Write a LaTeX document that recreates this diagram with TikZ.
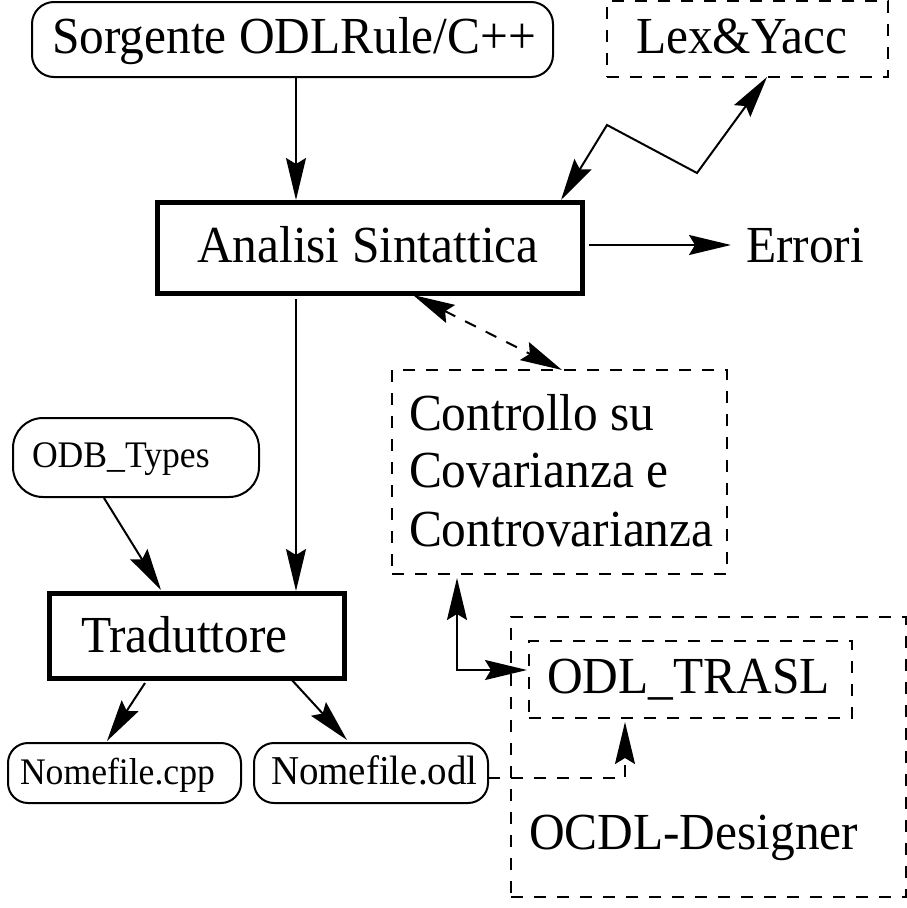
\documentclass[tikz,border=0pt]{standalone}
\usepackage{fontspec}
\setmainfont{Liberation Serif}[FakeStretch=0.95]
\usetikzlibrary{arrows.meta,calc}

\newcommand\bigsz{\fontsize{52}{57.5}\selectfont}
\newcommand\smallsz{\fontsize{37.5}{42}\selectfont}
\newcommand\midsz{\fontsize{41}{46}\selectfont}

\tikzset{
  thinline/.style={line width=2pt},
  roundbox/.style={draw, thinline, rounded corners=22pt, rectangle, inner sep=0pt, outer sep=0pt},
  thickbox/.style={draw, line width=5pt, rectangle, inner sep=0pt, outer sep=0pt},
  dashline/.style={dash pattern=on 12pt off 11pt},
  dashbox/.style={draw, thinline, dashline, rectangle, inner sep=0pt, outer sep=0pt},
  lbl/.style={anchor=base west, inner sep=0pt, outer sep=0pt, font=\bigsz},
  tip/.tip={Stealth[length=42pt,width=20pt,inset=6pt]},
  arr/.style={thinline, -tip},
  arrboth/.style={thinline, tip-tip}
}

\begin{document}
\begin{tikzpicture}[x=1pt,y=-1pt]
\useasboundingbox (0,0) rectangle (907,908);

% boxes
\node[roundbox, minimum width=521pt, minimum height=75pt] (src) at (292.5,39.5) {};
\node[dashbox, minimum width=281pt, minimum height=76pt] (lex) at (747.5,39) {};
\node[thickbox, minimum width=425pt, minimum height=91pt] (ana) at (369.5,247.5) {};
\node[dashbox, minimum width=335pt, minimum height=204pt] (ctl) at (559.5,472) {};
\node[roundbox, rounded corners=30pt, minimum width=246pt, minimum height=79pt] (odb) at (136,457.5) {};
\node[thickbox, minimum width=295pt, minimum height=85pt] (tra) at (196.5,635.5) {};
\node[roundbox, rounded corners=20pt, minimum width=233pt, minimum height=60pt] (cpp) at (124.5,773) {};
\node[roundbox, rounded corners=20pt, minimum width=234pt, minimum height=60pt] (odl) at (371,773) {};
\node[dashbox, minimum width=395pt, minimum height=280pt] (ocdl) at (708.5,757) {};
\node[dashbox, minimum width=323pt, minimum height=77pt] (trasl) at (690.5,679.5) {};

% labels
\node[lbl] (srct) at (52,53) {Sorgente ODLRule/C++};
\node[lbl] (lext) at (636,53) {Lex\&Yacc};
\node[lbl] (anat) at (197,262) {Analisi Sintattica};
\node[lbl] (err) at (746,262) {Errori};
\node[lbl] (ctl1) at (409,430) {Controllo su};
\node[lbl] (ctl2) at (409,487) {Covarianza e};
\node[lbl] (ctl3) at (409,546) {Controvarianza};
\node[lbl, font=\smallsz] (odbt) at (32,467) {ODB\_Types};
\node[lbl] (trat) at (81,652) {Traduttore};
\node[lbl, font=\smallsz] (cppt) at (20,784) {Nomefile.cpp};
\node[lbl, font=\midsz] (odlt) at (271,784) {Nomefile.odl};
\node[lbl] (traslt) at (547,693) {ODL\_TRASL};
\node[lbl] (ocdlt) at (529,849) {OCDL-Designer};

% connectors
\draw[arr] ($(src.south west)+(264,0)$) -- ($(ana.north west)+(139,-2)$);
\draw[arr] ($(ana.east)+(7,-2.5)$) -- ($(ana.east -| err.west)+(-15,-2.5)$);
\draw[arrboth] ($(ana.north east)+(-21,-2)$) -- (607,125) -- (697,173)
  -- ($(lex.south west)+(160,0)$);
\draw[arr] ($(ana.south west)+(139,6)$) -- ($(tra.north west)+(247,-2)$);
\draw[arrboth, dashline] ($(ana.south west)+(256,2)$) -- ($(ctl.north west)+(170,0)$);
\draw[arr] ($(odb.south west)+(91,1)$) -- ($(tra.north west)+(112,-3)$);
\draw[arr] ($(tra.south west)+(96,5)$) -- ($(cpp.north west)+(99,-2)$);
\draw[arr] ($(tra.south west)+(242,1)$) -- ($(odl.north west)+(93,-3)$);
\draw[arrboth] ($(ctl.south west)+(65,4)$) |- ($(trasl.north west)+(-2,29)$);
\draw[arr, dashline] ($(odl.east)+(0,5)$) -| ($(trasl.south west)+(96,4)$);
\end{tikzpicture}
\end{document}
